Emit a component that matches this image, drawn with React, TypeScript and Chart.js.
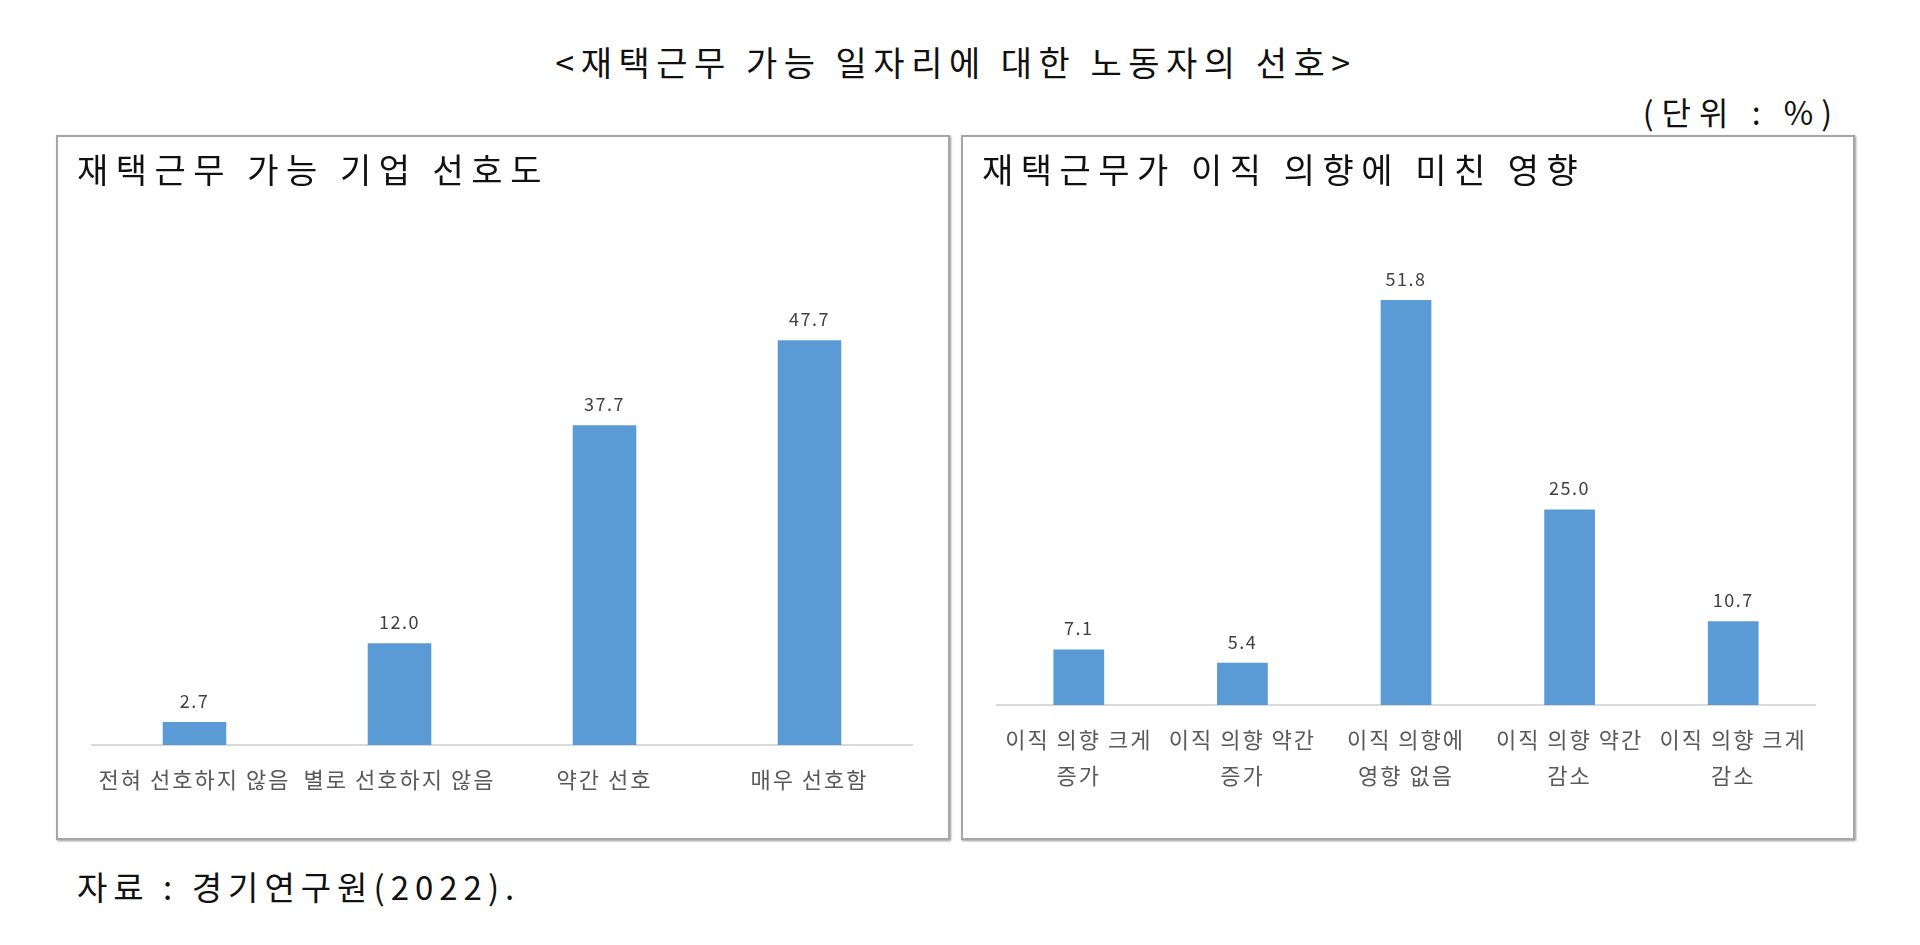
import React, { useEffect, useRef } from 'react';
import { Chart, registerables } from 'chart.js';

Chart.register(...registerables);

// data (%)
const leftCategories: string[] = ['전혀 선호하지 않음', '별로 선호하지 않음', '약간 선호', '매우 선호함'];
const leftValues: number[] = [2.7, 12.0, 37.7, 47.7];

const rightCategories: string[][] = [
  ['이직 의향 크게', '증가'],
  ['이직 의향 약간', '증가'],
  ['이직 의향에', '영향 없음'],
  ['이직 의향 약간', '감소'],
  ['이직 의향 크게', '감소'],
];
const rightValues: number[] = [7.1, 5.4, 51.8, 25.0, 10.7];

const FONT = '"Noto Sans CJK KR", "Noto Sans", sans-serif';
const BAR_COLOR = '#5b9bd5';

// the source text is wide, so space the canvas letters a little
// (the context state is reset when the canvas resizes, so set it again before layout and draw)
const wideText = {
  id: 'wideText',
  beforeLayout(chart: Chart) {
    (chart.ctx as any).letterSpacing = '2px';
  },
  beforeDraw(chart: Chart) {
    (chart.ctx as any).letterSpacing = '2px';
  },
};

// draws the value above each bar
const valueLabels = {
  id: 'valueLabels',
  afterDatasetsDraw(chart: Chart) {
    const ctx = chart.ctx;
    ctx.save();
    (ctx as any).letterSpacing = '1.5px';
    ctx.font = `18px ${FONT}`;
    ctx.fillStyle = '#404040';
    ctx.textAlign = 'center';
    ctx.textBaseline = 'bottom';
    chart.data.datasets.forEach((ds, di) => {
      const meta = chart.getDatasetMeta(di);
      meta.data.forEach((bar: any, i) => {
        const v = ds.data[i] as number;
        ctx.fillText(v.toFixed(1), bar.x, bar.y - 12);
      });
    });
    ctx.restore();
  },
};

interface BarPanelProps {
  labels: (string | string[])[];
  values: number[];
  padRight: number;
  axisHeight: number;
}

const BarPanel: React.FC<BarPanelProps> = ({ labels, values, padRight, axisHeight }) => {
  const chartRef = useRef<HTMLCanvasElement | null>(null);
  const chartInstance = useRef<Chart | null>(null);

  useEffect(() => {
    if (!chartRef.current) return;
    if (chartInstance.current) chartInstance.current.destroy();

    chartInstance.current = new Chart(chartRef.current, {
      type: 'bar',
      data: {
        labels: labels,
        datasets: [
          {
            data: values,
            backgroundColor: BAR_COLOR,
            categoryPercentage: 1,
            barPercentage: 0.31,
          },
        ],
      },
      options: {
        responsive: true,
        maintainAspectRatio: false,
        animation: false,
        layout: { padding: { left: 34, right: padRight, top: 99, bottom: 0 } },
        scales: {
          y: { display: false, min: 0, max: 60 },
          x: {
            grid: { display: false, drawTicks: false },
            border: { display: true, color: '#d9d9d9', width: 2 },
            ticks: {
              color: '#595959',
              font: { family: FONT, size: 22, lineHeight: 1.65 },
              padding: 16,
              maxRotation: 0,
              autoSkip: false,
            },
            afterFit: (axis: any) => {
              axis.height = axisHeight;
            },
          },
        },
        plugins: {
          legend: { display: false },
          tooltip: { enabled: false },
        },
      },
      plugins: [wideText, valueLabels],
    });

    return () => {
      if (chartInstance.current) {
        chartInstance.current.destroy();
        chartInstance.current = null;
      }
    };
  }, [labels, values]);

  return (
    <div style={{ position: 'absolute', left: 0, top: 0, width: 890, height: 701 }}>
      <canvas ref={chartRef} />
    </div>
  );
};

const panelStyle = (left: number): React.CSSProperties => ({
  position: 'absolute',
  left,
  top: 135,
  width: 894,
  height: 705,
  boxSizing: 'border-box',
  border: '2px solid #a6a6a6',
  boxShadow: '1px 1px 2px #9a9a9a',
  background: '#fff',
});

const panelTitle: React.CSSProperties = {
  position: 'absolute',
  left: 19,
  top: 7,
  fontSize: 34,
  letterSpacing: 7.5,
  color: '#111',
  whiteSpace: 'nowrap',
};

export default function App() {
  return (
    <div style={{ position: 'relative', width: 1920, height: 945, background: '#fff', fontFamily: FONT, overflow: 'hidden' }}>
      <style>{'body{margin:0}'}</style>
      <div
        style={{
          position: 'absolute',
          left: 0,
          width: 1912,
          top: 37,
          textAlign: 'center',
          fontSize: 34,
          letterSpacing: 6.5,
          color: '#111',
          whiteSpace: 'nowrap',
        }}
      >
        {'<재택근무 가능 일자리에 대한 노동자의 선호>'}
      </div>
      <div
        style={{
          position: 'absolute',
          right: 1920 - 1840,
          top: 88,
          fontSize: 32,
          letterSpacing: 8,
          color: '#111',
          whiteSpace: 'nowrap',
        }}
      >
        (단위 : %)
      </div>

      <div style={panelStyle(56)}>
        <BarPanel labels={leftCategories} values={leftValues} padRight={36} axisHeight={93} />
        <div style={panelTitle}>재택근무 가능 기업 선호도</div>
      </div>

      <div style={panelStyle(961)}>
        <BarPanel labels={rightCategories} values={rightValues} padRight={38} axisHeight={133} />
        <div style={panelTitle}>재택근무가 이직 의향에 미친 영향</div>
      </div>

      <div
        style={{
          position: 'absolute',
          left: 77,
          top: 862,
          fontSize: 33,
          letterSpacing: 6,
          color: '#111',
          whiteSpace: 'nowrap',
        }}
      >
        자료 : 경기연구원(2022).
      </div>
    </div>
  );
}
